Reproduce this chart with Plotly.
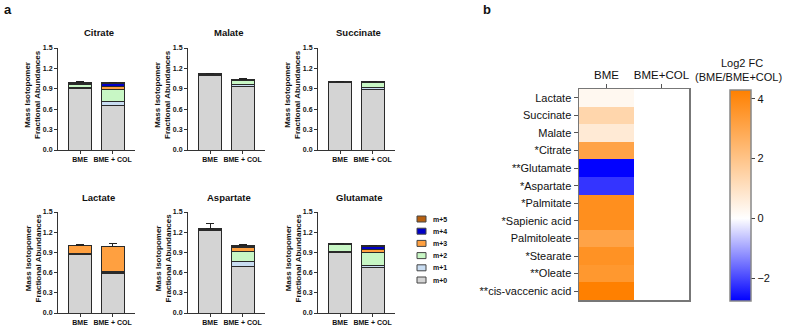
import plotly.graph_objects as go

W, H = 787, 330

# ---------------- data ----------------
groups = ["BME", "BME + COL"]
isotopologues = ["m+0", "m+1", "m+2", "m+3", "m+4", "m+5"]
iso_colors = ["#D4D4D4", "#C9DDF2", "#C8F7C5", "#FFA040", "#0000C8", "#B8600F"]

metabolites = ["Citrate", "Malate", "Succinate", "Lactate", "Aspartate", "Glutamate"]

# mean fractions per isotopologue [BME, BME+COL] for m+0 .. m+5
citrate_mean = [[0.91, 0.65], [0.01, 0.06], [0.04, 0.18], [0.01, 0.05], [0.01, 0.04], [0.02, 0.01]]
citrate_err = [[0.01, 0.01], [0.005, 0.01], [0.005, 0.01], [0.005, 0.01], [0.005, 0.005], [0.005, 0.005]]
malate_mean = [[1.09, 0.94], [0.01, 0.03], [0.01, 0.05], [0.005, 0.01], [0.003, 0.003], [0.002, 0.002]]
malate_err = [[0.005, 0.005], [0.005, 0.005], [0.005, 0.01], [0.005, 0.005], [0.005, 0.005], [0.01, 0.02]]
succinate_mean = [[0.995, 0.89], [0.005, 0.03], [0.005, 0.07], [0.002, 0.01], [0.001, 0.002], [0.001, 0.002]]
succinate_err = [[0.003, 0.005], [0.003, 0.005], [0.003, 0.005], [0.003, 0.005], [0.003, 0.005], [0.005, 0.01]]
lactate_mean = [[0.87, 0.585], [0.01, 0.01], [0.01, 0.025], [0.11, 0.375], [0.0, 0.0], [0.0, 0.0]]
lactate_err = [[0.01, 0.01], [0.005, 0.005], [0.005, 0.01], [0.02, 0.035], [0.0, 0.0], [0.0, 0.0]]
aspartate_mean = [[1.22, 0.69], [0.01, 0.07], [0.01, 0.16], [0.005, 0.06], [0.005, 0.01], [0.005, 0.01]]
aspartate_err = [[0.01, 0.01], [0.005, 0.01], [0.005, 0.01], [0.005, 0.01], [0.005, 0.005], [0.08, 0.01]]
glutamate_mean = [[0.90, 0.67], [0.02, 0.04], [0.09, 0.19], [0.005, 0.04], [0.005, 0.05], [0.01, 0.01]]
glutamate_err = [[0.01, 0.01], [0.01, 0.01], [0.005, 0.01], [0.005, 0.01], [0.005, 0.005], [0.005, 0.005]]

all_means = [citrate_mean, malate_mean, succinate_mean, lactate_mean, aspartate_mean, glutamate_mean]
all_errs = [citrate_err, malate_err, succinate_err, lactate_err, aspartate_err, glutamate_err]

y_ticks = [0.0, 0.3, 0.6, 0.9, 1.2, 1.5]

# heatmap
heat_rows = ["Lactate", "Succinate", "Malate", "*Citrate", "**Glutamate", "*Aspartate",
             "*Palmitate", "*Sapienic acid", "Palmitoleate", "*Stearate", "**Oleate",
             "**cis-vaccenic acid"]
heat_cols = ["BME", "BME+COL"]
log2fc_bme = [0.25, 1.4, 0.7, 3.1, -2.75, -2.2, 3.8, 3.8, 3.1, 3.7, 3.5, 4.3]
log2fc_col = [0, 0, 0, 0, 0, 0, 0, 0, 0, 0, 0, 0]
cbar_ticks = [-2, 0, 2, 4]

# ---------------- layout helpers ----------------
def px_x(p):
    return p / W

def px_y(p):
    return 1 - p / H

FONT = "Liberation Sans, Arial, sans-serif"

fig = go.Figure()

# subplot pixel boxes: (left, right, top, bottom)
col_x = [58, 188, 318]
row_y = [(48, 150), (212, 313)]
boxes = []
for r in range(2):
    for c in range(3):
        boxes.append((col_x[c], col_x[c] + 77, row_y[r][0], row_y[r][1]))

annotations = []
shapes = []

def note(xp, yp, text, size, xanchor="center", yanchor="middle", angle=0):
    annotations.append(dict(x=px_x(xp), y=px_y(yp), xref="paper", yref="paper",
                            xanchor=xanchor, yanchor=yanchor, text=text, showarrow=False,
                            textangle=angle, font=dict(family=FONT, size=size, color="#111")))

for i, name in enumerate(metabolites):
    k = "" if i == 0 else str(i + 1)
    xa, ya = "x" + k, "y" + k
    means, errs = all_means[i], all_errs[i]
    for j, iso in enumerate(isotopologues):
        fig.add_trace(go.Bar(
            x=[0, 1], y=means[j], name=iso, xaxis=xa, yaxis=ya,
            marker=dict(color=iso_colors[j], line=dict(color="#2a2a2a", width=1)),
            width=0.71, showlegend=False,
            error_y=dict(type="data", array=errs[j], arrayminus=[0, 0], symmetric=False,
                         color="#222", thickness=1, width=4),
            hoverinfo="skip"))
    l, r, t, b = boxes[i]
    fig.layout["xaxis" + k] = dict(
        domain=[px_x(l), px_x(r)], anchor=ya, range=[-0.68, 1.69], automargin=False,
        tickvals=[0, 1], ticktext=groups, ticks="outside", ticklen=3, tickwidth=1,
        tickcolor="#333", showline=True, linecolor="#333", linewidth=1,
        showgrid=False, zeroline=False,
        tickfont=dict(family=FONT, size=7, color="#111", weight="bold"))
    fig.layout["yaxis" + k] = dict(
        domain=[px_y(b), px_y(t)], anchor=xa, range=[0, 1.5], automargin=False,
        tickvals=y_ticks, tickformat=".1f", ticks="outside", ticklen=3, tickwidth=1,
        tickcolor="#333", showline=True, linecolor="#333", linewidth=1,
        showgrid=False, zeroline=False,
        tickfont=dict(family=FONT, size=7, color="#111", weight="bold"))
    note((l + r) / 2 + 2, t - 15, "<b>%s</b>" % name, 9.5)
    note(l - 25, (t + b) / 2 - 4, "<b>Mass Isotopomer</b><br><b>Fractional Abundances</b>", 8, angle=-90)

# custom legend (m+5 on top)
for n, j in enumerate(range(5, -1, -1)):
    cy = 219 + n * 12.2
    shapes.append(dict(type="rect", xref="paper", yref="paper",
                       x0=px_x(417), x1=px_x(426), y0=px_y(cy + 3), y1=px_y(cy - 3),
                       fillcolor=iso_colors[j], line=dict(color="#444", width=1)))
    note(431, cy, "<b>%s</b>" % isotopologues[j], 7, xanchor="left")

# heatmap
zmin, zmax = -2.77, 4.3
zfrac = (0 - zmin) / (zmax - zmin)
z = [[log2fc_bme[i], log2fc_col[i]] for i in range(len(heat_rows))]
fig.add_trace(go.Heatmap(
    z=z, x=heat_cols, y=heat_rows, xaxis="x7", yaxis="y7",
    zmin=zmin, zmax=zmax,
    colorscale=[[0, "#0000FF"], [zfrac, "#FFFFFF"], [1, "#FF8000"]],
    hoverinfo="skip",
    colorbar=dict(x=px_x(730), xanchor="left", y=px_y(90), yanchor="top",
                  len=211, lenmode="pixels", thickness=21, thicknessmode="pixels",
                  tickvals=cbar_ticks, ticks="outside", ticklen=4, tickcolor="#444",
                  outlinecolor="#888", outlinewidth=1.5, xpad=0, ypad=0,
                  tickfont=dict(family=FONT, size=11, color="#111"))))

fig.layout["xaxis7"] = dict(domain=[px_x(579), px_x(689)], anchor="y7", side="top",
                            automargin=False,
                            ticks="outside", ticklen=4, tickcolor="#555",
                            showline=True, mirror=True, linecolor="#777", linewidth=1.5,
                            showgrid=False, zeroline=False,
                            tickfont=dict(family=FONT, size=11.5, color="#111"))
fig.layout["yaxis7"] = dict(domain=[px_y(300), px_y(89)], anchor="x7", autorange="reversed",
                            automargin=False,
                            ticks="outside", ticklen=4, tickcolor="#555",
                            showline=True, mirror=True, linecolor="#777", linewidth=1.5,
                            showgrid=False, zeroline=False,
                            tickfont=dict(family=FONT, size=11, color="#111"))

note(742, 63, "Log2 FC", 11)
note(738, 77, "(BME/BME+COL)", 11)

# panel letters
note(2, 10, "<b>a</b>", 13, xanchor="left")
note(481, 10, "<b>b</b>", 13, xanchor="left")

fig.update_layout(width=W, height=H,
                  margin=dict(l=0, r=0, t=0, b=0, pad=0, autoexpand=False),
                  paper_bgcolor="white", plot_bgcolor="white", barmode="stack",
                  showlegend=False, annotations=annotations, shapes=shapes,
                  font=dict(family=FONT))

fig.write_html("out.html", config={"displayModeBar": False, "staticPlot": True},
               post_script="document.body.style.margin='0';document.body.style.overflow='hidden';")
